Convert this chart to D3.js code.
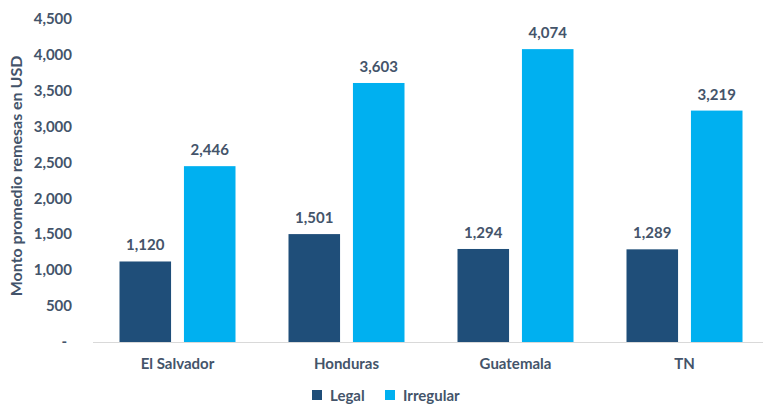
<!DOCTYPE html>
<html>
<head>
<meta charset="utf-8">
<script src="https://cdn.jsdelivr.net/npm/d3@7"></script>
<style>
  html, body { margin: 0; padding: 0; background: #fff; }
  svg text { font-family: Lato, "Open Sans", sans-serif; font-weight: 700; fill: #44546A; }
</style>
</head>
<body>
<svg id="chart" width="763" height="404"></svg>
<script>
const categories = ["El Salvador", "Honduras", "Guatemala", "TN"];
const seriesNames = ["Legal", "Irregular"];
const legalValues = [1120, 1501, 1294, 1289];
const irregularValues = [2446, 3603, 4074, 3219];
const yTicks = [0, 500, 1000, 1500, 2000, 2500, 3000, 3500, 4000, 4500];
const colors = ["#1F4E79", "#00B0F0"];

const svg = d3.select("#chart");
const W = 763, H = 404;
const plot = { left: 93, right: 769, top: 18.5, bottom: 342 };

const x0 = d3.scaleBand().domain(categories).range([plot.left, plot.right]).paddingInner(0).paddingOuter(0);
const x1 = d3.scaleBand().domain(seriesNames).range([26.5, 169 - 26.5]).paddingInner(0.2);
const y = d3.scaleLinear().domain([0, 4500]).range([plot.bottom, plot.top]);

const fmt = d3.format(",");

// y axis labels (no line, no tick marks)
const yAxis = d3.axisLeft(y).tickValues(yTicks).tickSize(0).tickPadding(0)
  .tickFormat(d => d === 0 ? "-" : fmt(d));
const yg = svg.append("g").attr("transform", `translate(72,0)`).call(yAxis);
yg.select(".domain").remove();
yg.selectAll("text").attr("font-size", 15).attr("font-family", null).attr("fill", null)
  .attr("dx", d => d === 0 ? -5 : 0);

// axis title
svg.append("text")
  .attr("transform", `translate(22,176) rotate(-90)`)
  .attr("text-anchor", "middle")
  .attr("font-size", 16)
  .text("Monto promedio remesas en USD");

// bars
const rows = categories.map((c, i) => ({ cat: c, vals: [legalValues[i], irregularValues[i]] }));
const groups = svg.append("g").selectAll("g").data(rows).join("g")
  .attr("transform", d => `translate(${x0(d.cat)},0)`);

groups.selectAll("rect").data(d => d.vals.map((v, j) => ({ name: seriesNames[j], v, j })))
  .join("rect")
  .attr("x", d => x1(d.name))
  .attr("width", x1.bandwidth())
  .attr("y", d => y(d.v))
  .attr("height", d => y(0) - y(d.v))
  .attr("fill", d => colors[d.j]);

groups.selectAll("text.val").data(d => d.vals.map((v, j) => ({ name: seriesNames[j], v, j })))
  .join("text")
  .attr("class", "val")
  .attr("x", d => x1(d.name) + x1.bandwidth() / 2)
  .attr("y", d => y(d.v) - 11)
  .attr("text-anchor", "middle")
  .attr("font-size", 15)
  .text(d => fmt(d.v));

// baseline
svg.append("line")
  .attr("x1", plot.left).attr("x2", W)
  .attr("y1", y(0) + 0.5).attr("y2", y(0) + 0.5)
  .attr("stroke", "#D9D9D9").attr("stroke-width", 1);

// category labels
const xAxis = d3.axisBottom(x0).tickSize(0).tickPadding(0);
const xg = svg.append("g").attr("transform", `translate(0,${plot.bottom})`).call(xAxis);
xg.select(".domain").remove();
xg.selectAll("text").attr("font-size", 15).attr("font-family", null).attr("fill", null)
  .attr("dy", null).attr("y", 27);

// legend
const legend = svg.append("g");
const legendItems = [{ name: "Legal", x: 312 }, { name: "Irregular", x: 385 }];
legendItems.forEach((d, i) => {
  legend.append("rect").attr("x", d.x).attr("y", 390).attr("width", 10).attr("height", 10).attr("fill", colors[i]);
  legend.append("text").attr("x", d.x + 18).attr("y", 400.5).attr("font-size", 15).text(d.name);
});
</script>
</body>
</html>
